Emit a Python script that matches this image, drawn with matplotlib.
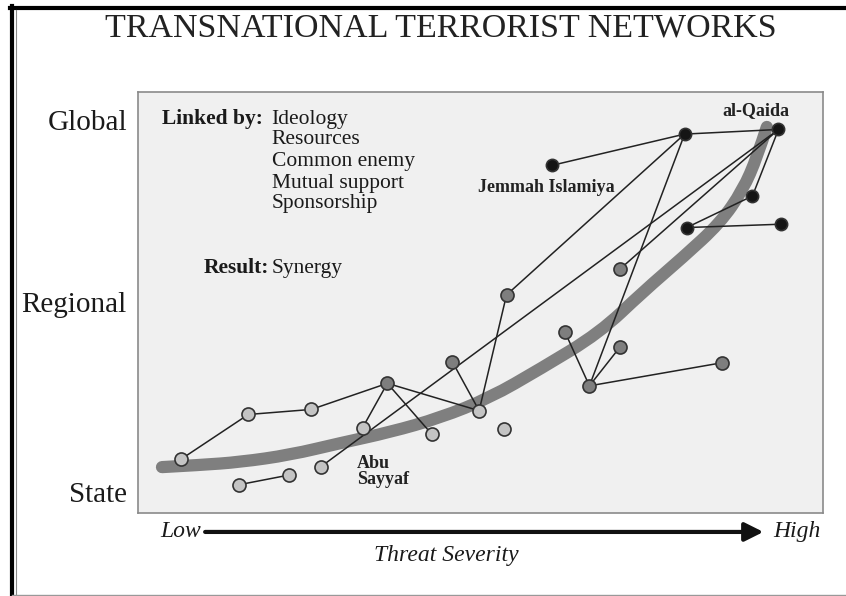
import matplotlib
matplotlib.use("Agg")
import matplotlib.pyplot as plt
from matplotlib.lines import Line2D
from matplotlib.path import Path
from matplotlib.patches import PathPatch

plt.rcParams['font.family'] = ['Liberation Serif', 'DejaVu Serif']

# ---- data (threat severity x, scope y; 0-10 schematic scale) ----
node_x = [0.63, 1.61, 2.53, 3.64, 3.28, 4.29, 4.98, 4.59, 5.38, 5.35, 2.67, 1.47, 2.20,
          6.23, 6.59, 7.04, 8.53, 9.35, 7.98, 6.05, 8.97, 8.01, 9.39, 7.04]
node_y = [1.28, 2.34, 2.46, 3.08, 2.03, 1.87, 2.43, 3.59, 5.18, 2.00, 1.10, 0.67, 0.90,
          4.31, 3.02, 3.95, 3.57, 9.11, 9.00, 8.26, 7.53, 6.78, 6.86, 5.80]
node_tone = ['light', 'light', 'light', 'mid', 'light', 'light', 'light', 'mid', 'mid', 'light',
             'light', 'light', 'light', 'mid', 'mid', 'mid', 'mid', 'dark', 'dark', 'dark',
             'dark', 'dark', 'dark', 'mid']
edges = [(0, 1), (1, 2), (2, 3), (3, 4), (3, 5), (3, 6), (7, 6), (6, 8), (8, 18),
         (10, 17), (11, 12), (23, 17), (14, 18), (14, 13), (14, 15), (14, 16),
         (19, 18), (18, 17), (20, 17), (20, 21), (21, 22)]

# trend band guide points
trend_x = [0.35, 0.91, 1.49, 2.22, 2.95, 3.68, 4.41, 5.13, 5.87, 6.74, 7.37, 7.96, 8.50, 8.83, 9.04, 9.18]
trend_y = [1.09, 1.14, 1.21, 1.38, 1.66, 1.92, 2.26, 2.73, 3.42, 4.28, 5.25, 6.08, 6.89, 7.67, 8.46, 9.17]

scope_labels = ['Global', 'Regional', 'State']
scope_pos = [9.33, 5.01, 0.50]

linked_by = ['Ideology', 'Resources', 'Common enemy', 'Mutual support', 'Sponsorship']
group_labels = ['al-Qaida', 'Jemmah Islamiya', 'Abu\nSayyaf']

tone_color = {'light': '#c4c4c4', 'mid': '#7e7e7e', 'dark': '#151515'}
tone_size = {'light': 9.4, 'mid': 9.4, 'dark': 8.8}

fig = plt.figure(figsize=(8.46, 5.96), dpi=100)
W, H = 846, 596
ax = fig.add_axes([138 / W, (H - 513) / H, (823 - 138) / W, (513 - 92) / H])
ax.set_xlim(0, 10)
ax.set_ylim(0, 10)
ax.set_facecolor('#f0f0f0')
for s in ax.spines.values():
    s.set_color('#8a8a8a')
    s.set_linewidth(1.2)
ax.set_xticks([])
ax.set_yticks(scope_pos)
ax.set_yticklabels(scope_labels, fontsize=21, color='#1a1a1a')
ax.tick_params(axis='y', length=0, pad=8)

# trend band as a smooth quadratic-Bezier path through the guide points
pts = list(zip(trend_x, trend_y))
verts = [pts[0]]
codes = [Path.MOVETO]
for i in range(1, len(pts) - 1):
    mid = ((pts[i][0] + pts[i + 1][0]) / 2, (pts[i][1] + pts[i + 1][1]) / 2)
    if i == len(pts) - 2:
        mid = pts[-1]
    verts += [pts[i], mid]
    codes += [Path.CURVE3, Path.CURVE3]
band = PathPatch(Path(verts, codes), facecolor='none', edgecolor='#7f7f7f', lw=8.8,
                 capstyle='round', joinstyle='round', zorder=1)
ax.add_patch(band)

# edges
for a, b in edges:
    ax.plot([node_x[a], node_x[b]], [node_y[a], node_y[b]], color='#222222', lw=1.1, zorder=2)

# nodes
for x, y, t in zip(node_x, node_y, node_tone):
    ax.plot(x, y, 'o', ms=tone_size[t], mfc=tone_color[t], mec='#333333', mew=1.2, zorder=3)

# inner text
ax.text(1.82, 9.25, 'Linked by:', ha='right', va='baseline', fontsize=15.5, fontweight='bold', color='#1a1a1a')
for lbl, yb in zip(linked_by, [9.25, 8.76, 8.24, 7.73, 7.24]):
    ax.text(1.95, yb, lbl, ha='left', va='baseline', fontsize=15.5, color='#1a1a1a')
ax.text(1.91, 5.71, 'Result:', ha='right', va='baseline', fontsize=15.5, fontweight='bold', color='#1a1a1a')
ax.text(1.95, 5.71, 'Synergy', ha='left', va='baseline', fontsize=15.5, color='#1a1a1a')

ax.text(9.02, 9.55, group_labels[0], ha='center', va='center', fontsize=13, fontweight='bold', color='#222222')
ax.text(5.96, 7.74, group_labels[1], ha='center', va='center', fontsize=13, fontweight='bold', color='#222222')
ax.text(3.20, 0.99, group_labels[2], ha='left', va='center', fontsize=13, fontweight='bold',
        color='#222222', linespacing=0.95)

# threat severity axis
ax.annotate('', xy=(0.913, -0.045), xytext=(0.098, -0.045), xycoords='axes fraction',
            textcoords='axes fraction', annotation_clip=False,
            arrowprops=dict(arrowstyle='-|>', lw=3, color='#111111', mutation_scale=28,
                            shrinkA=0, shrinkB=0))
ax.text(0.092, -0.045, 'Low', transform=ax.transAxes, ha='right', va='center',
        fontsize=17, fontstyle='italic', color='#1a1a1a')
ax.text(0.928, -0.045, 'High', transform=ax.transAxes, ha='left', va='center',
        fontsize=17, fontstyle='italic', color='#1a1a1a')
ax.text(0.45, -0.10, 'Threat Severity', transform=ax.transAxes, ha='center', va='center',
        fontsize=17, fontstyle='italic', color='#1a1a1a')

# title
fig.text(441 / W, 1 - 28 / H, 'TRANSNATIONAL TERRORIST NETWORKS', ha='center', va='center',
         fontsize=24.5, color='#222222')

# page frame
fig.add_artist(Line2D([12 / W, 12 / W], [0, 1 - 6 / H], color='black', lw=3.0, transform=fig.transFigure))
fig.add_artist(Line2D([10 / W, 1], [1 - 8 / H, 1 - 8 / H], color='black', lw=3.0, transform=fig.transFigure))
fig.add_artist(Line2D([16 / W, 16 / W], [1 / H, 1 - 10 / H], color='#888888', lw=0.8, transform=fig.transFigure))
fig.add_artist(Line2D([12 / W, 1], [1.5 / H, 1.5 / H], color='#999999', lw=1.0, transform=fig.transFigure))

fig.savefig('out.png', dpi=100, facecolor='white')
